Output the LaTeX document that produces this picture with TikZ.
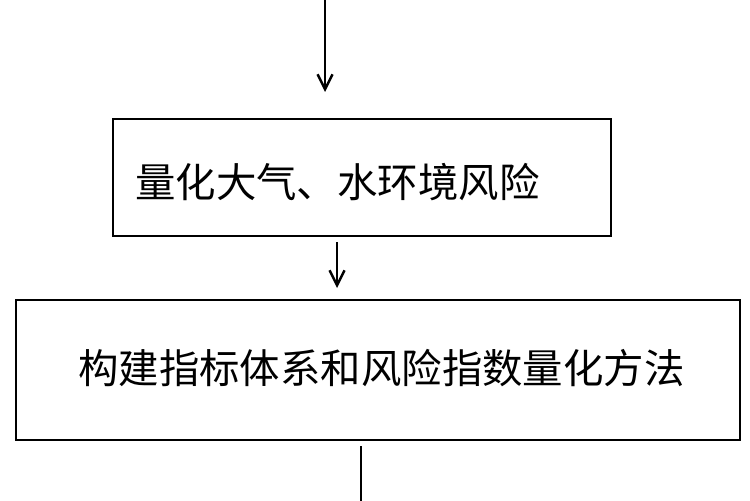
\documentclass[tikz,border=0pt]{standalone}
\usepackage{fontspec}
\newfontfamily\cjk{Noto Sans CJK SC}
\usetikzlibrary{arrows.meta}
\tikzset{
	stagebox/.style={draw, line width=1pt, anchor=north west, inner sep=0pt},
	flowarrow/.style={-{Straight Barb[length=3mm,width=3mm]}, line width=1.4pt},
	stagetext/.style={anchor=west, inner sep=0pt, font=\cjk\fontsize{23}{26}\selectfont}
}
\begin{document}
\begin{tikzpicture}[x=0.02cm, y=-0.02cm]
	% canvas 750 x 500 px
	\useasboundingbox[fill=white] (0,0) rectangle (750,500);
	% boxes
	\node[stagebox, minimum width=498*0.02cm, minimum height=117*0.02cm] (riskbox) at (112,118) {};
	\node[stagebox, minimum width=724*0.02cm, minimum height=140*0.02cm] (indexbox) at (15,299) {};
	% texts
	\node[stagetext] (risktext) at (135,182) {量化大气、水环境风险};
	\node[stagetext] (indextext) at (78,368) {构建指标体系和风险指数量化方法};
	% arrows
	\coordinate (topin) at (325,0);
	\coordinate (topend) at (325,92);
	\coordinate (midstart) at (337,242);
	\coordinate (midend) at (337,288);
	\coordinate (lowstart) at (361,446);
	\coordinate (lowend) at (361,520);
	\draw[flowarrow] (topin) -- (topend);
	\draw[flowarrow] (midstart) -- (midend);
	\draw[flowarrow] (lowstart) -- (lowend);
\end{tikzpicture}
\end{document}
